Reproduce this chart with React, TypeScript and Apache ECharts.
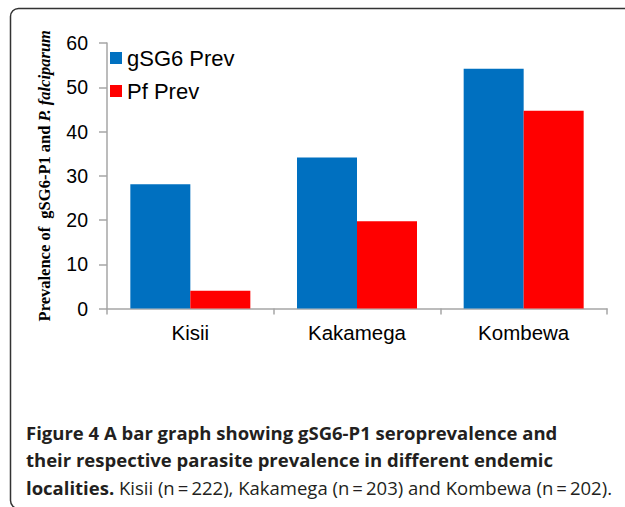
import React, { useEffect, useRef } from "react";
import * as echarts from "echarts";

const categories = ["Kisii", "Kakamega", "Kombewa"];
const gsg6Prev = [28.1, 34.1, 54.2];
const pfPrev = [4.0, 19.7, 44.7];
const seriesNames = ["gSG6 Prev", "Pf Prev"];
const captionLine1 = "Figure 4 A bar graph showing gSG6-P1 seroprevalence and";
const captionLine2 = "their respective parasite prevalence in different endemic";
const captionLine3Bold = "localities.";
const captionLine3Rest = " Kisii (n\u2009=\u2009222), Kakamega (n\u2009=\u2009203) and Kombewa (n\u2009=\u2009202).";

export default function App() {
  const ref = useRef<HTMLDivElement>(null);
  useEffect(() => {
    if (!ref.current) return;
    const chart = echarts.init(ref.current, null, { renderer: "svg" });
    const axisGrey = "#a6a6a6";
    const capColor = "#231f20";
    const capFont = "'Open Sans', 'Noto Sans', sans-serif";
    const capSize = 18.5;
    chart.setOption({
      animation: false,
      backgroundColor: "#ffffff",
      grid: { left: 107, right: 18, top: 43, bottom: 198.5 },
      legend: {
        orient: "vertical",
        left: 110,
        top: 47,
        padding: 0,
        itemWidth: 12,
        itemHeight: 12,
        itemGap: 11,
        icon: "rect",
        textStyle: { fontFamily: "'Liberation Sans', Arial, sans-serif", fontSize: 22, color: "#000" },
        data: seriesNames,
      },
      xAxis: {
        type: "category",
        data: categories,
        axisLine: { lineStyle: { color: axisGrey, width: 1.5 } },
        axisTick: { show: true, length: 6, lineStyle: { color: axisGrey, width: 1.5 } },
        axisLabel: { fontFamily: "'Liberation Sans', Arial, sans-serif", fontSize: 20.5, color: "#000", margin: 13 },
      },
      yAxis: {
        type: "value",
        min: 0,
        max: 60,
        interval: 10,
        name: "{b|Prevalence of  gSG6-P1 and }{i|P. falciparum}",
        nameLocation: "middle",
        nameRotate: 90,
        nameGap: 54,
        nameTextStyle: {
          rich: {
            b: { fontFamily: "'Liberation Serif', 'Times New Roman', serif", fontWeight: "bold", fontSize: 16.5, color: "#000" },
            i: { fontFamily: "'Liberation Serif', 'Times New Roman', serif", fontWeight: "bold", fontStyle: "italic", fontSize: 16.5, color: "#000" },
          },
        },
        axisLine: { show: true, lineStyle: { color: axisGrey, width: 1.5 } },
        axisTick: { show: true, length: 8, lineStyle: { color: axisGrey, width: 1.5 } },
        splitLine: { show: false },
        axisLabel: { fontFamily: "'Liberation Sans', Arial, sans-serif", fontSize: 19.5, color: "#000", margin: 19 },
      },
      series: [
        {
          name: seriesNames[0],
          type: "bar",
          data: gsg6Prev,
          barGap: "0%",
          barCategoryGap: "28%",
          itemStyle: { color: "#0070c0" },
        },
        {
          name: seriesNames[1],
          type: "bar",
          data: pfPrev,
          barGap: "0%",
          barCategoryGap: "28%",
          itemStyle: { color: "#ff0000" },
        },
      ],
      graphic: [
        {
          type: "rect",
          shape: { x: 10.5, y: 8.5, width: 1000, height: 500, r: 8 },
          style: { fill: "none", stroke: "#333333", lineWidth: 1.5 },
          silent: true,
        },
        {
          type: "text",
          x: 26,
          y: 432,
          style: {
            text: captionLine1,
            fontFamily: capFont,
            fontWeight: "bold",
            fontSize: capSize,
            fill: capColor,
            verticalAlign: "middle",
          },
        },
        {
          type: "text",
          x: 26,
          y: 459.5,
          style: {
            text: captionLine2,
            fontFamily: capFont,
            fontWeight: "bold",
            fontSize: capSize,
            fill: capColor,
            verticalAlign: "middle",
          },
        },
        {
          type: "text",
          x: 26,
          y: 487,
          style: {
            text: "{b|" + captionLine3Bold + "}{r|" + captionLine3Rest + "}",
            verticalAlign: "middle",
            rich: {
              b: { fontFamily: capFont, fontWeight: "bold", fontSize: capSize, fill: capColor, color: capColor },
              r: { fontFamily: capFont, fontWeight: "normal", fontSize: capSize, fill: capColor, color: capColor },
            },
          },
        },
      ],
    });
    return () => chart.dispose();
  }, []);
  return (
    <div
      ref={ref}
      style={{ position: "fixed", left: 0, top: 0, width: 625, height: 507, background: "#fff" }}
    />
  );
}
